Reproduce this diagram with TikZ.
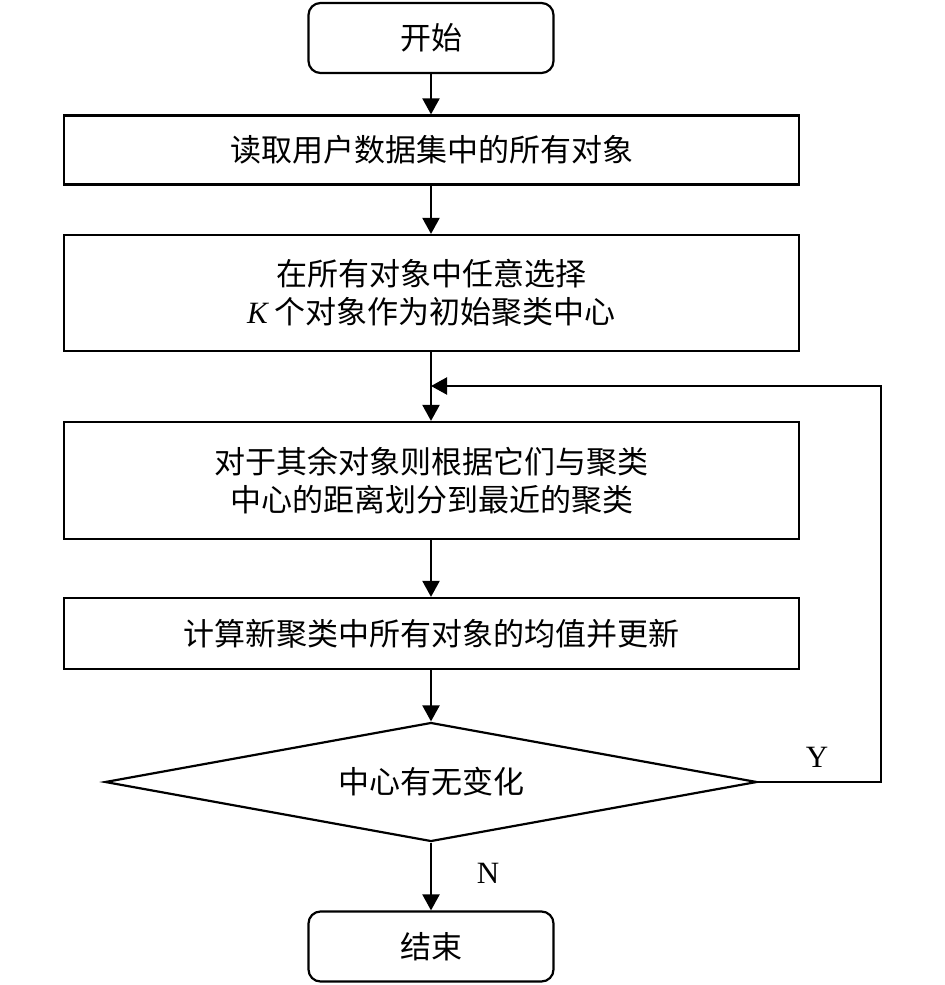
\documentclass[tikz,border=0pt]{standalone}
\usepackage{fontspec}
\setmainfont{Liberation Serif}
\newfontfamily\cjk{Noto Sans CJK SC}
\usetikzlibrary{arrows.meta,shapes.geometric}
\tikzset{
  every node/.style={font=\cjk\fontsize{15.5pt}{19pt}\selectfont},
  base/.style={draw=black, line width=1.1pt, align=center, inner sep=2pt},
  termbox/.style={base, rounded corners=6pt, minimum width=122.5pt, minimum height=35pt},
  procbox/.style={base, minimum width=367.5pt},
  decbox/.style={base, shape=diamond, shape aspect=5.48, minimum width=326pt, minimum height=59.5pt, inner sep=0pt},
  conn/.style={line width=1.1pt, -{Triangle[length=8pt,width=8.5pt]}},
  lbl/.style={font=\rmfamily\fontsize{15.5pt}{19pt}\selectfont}
}
\begin{document}
\begin{tikzpicture}[x=0.5pt,y=-0.5pt]
\useasboundingbox (0,0) rectangle (945,985);
\node[termbox] (start) at (431,38) {开始};
\node[procbox, minimum height=34.5pt] (b1) at (431.5,150) {读取用户数据集中的所有对象};
\node[procbox, minimum height=58pt] (b2) at (431.5,293) {在所有对象中任意选择\\{\rmfamily\itshape K} 个对象作为初始聚类中心};
\node[procbox, minimum height=58.5pt] (b3) at (431.5,480.5) {对于其余对象则根据它们与聚类\\中心的距离划分到最近的聚类};
\node[procbox, minimum height=35.5pt] (b4) at (431.5,633.5) {计算新聚类中所有对象的均值并更新};
\node[decbox] (dec) at (431,782) {中心有无变化};
\node[termbox] (end) at (431,946.5) {结束};
\coordinate (rt) at (881,782);
\coordinate (lp) at (431,386);
\node[lbl] (ylab) at (817,757) {Y};
\node[lbl] (nlab) at (488,873) {N};
\draw[conn] (start.south) -- (start.south |- b1.north);
\draw[conn] (b1.south -| start.south) -- (start.south |- b2.north);
\draw[conn] (b2.south -| start.south) -- (start.south |- b3.north);
\draw[conn] (b3.south -| start.south) -- (start.south |- b4.north);
\draw[conn] (b4.south -| start.south) -- (dec.north);
\draw[conn] (dec.south) -- (end.north);
\draw[conn] (dec.east) -- (rt) |- (lp);
\end{tikzpicture}
\end{document}
